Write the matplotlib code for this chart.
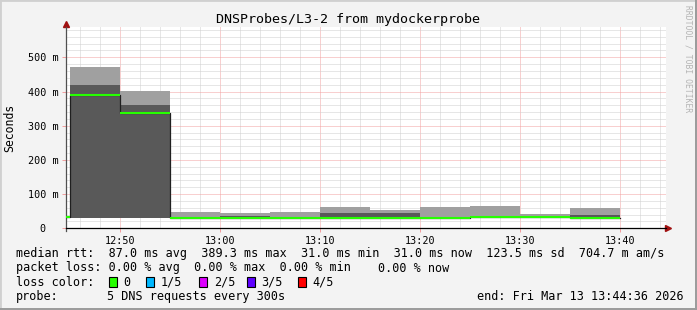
#SmokePing style latency graph (DNSProbes/L3-2)

import numpy as np
import matplotlib.pyplot as plt
from matplotlib.patches import Rectangle

#Data: one row per 5 minute step, values in ms
step_start = ['12:40', '12:45', '12:50', '12:55', '13:00', '13:05',
              '13:10', '13:15', '13:20', '13:25', '13:30', '13:35']
ping_min = [np.nan, 30, 30, 29, 29, 29, 29, 29, 29, 29, 29, 29]
ping_low = [np.nan, 30, 30, 30, 30, 30, 30, 30, 30, 30, 30, 30]
median = [34, 389.3, 336, 31, 31, 31, 31, 31, 31, 34, 34, 31]
ping_high = [np.nan, 419, 360, 32, 36, 32, 45, 45, 33, 36, 35, 39]
ping_max = [np.nan, 472, 402, 48, 45, 47, 62, 54, 62, 65, 42, 60]

x_ticks = ['12:50', '13:00', '13:10', '13:20', '13:30', '13:40']
y_ticks = [0, 100, 200, 300, 400, 500]
y_tick_labels = ['0  ', '100 m', '200 m', '300 m', '400 m', '500 m']

loss_labels = ['0', '1/5', '2/5', '3/5', '4/5']
loss_colors = ['#26ff00', '#00b8ff', '#dd00ff', '#5e00ff', '#ff0000']

def to_min(t):
    h, m = t.split(':')
    return (int(h) - 12) * 60 + int(m)

starts = np.array([to_min(t) for t in step_start], dtype=float)
ping_min = np.array(ping_min)
ping_low = np.array(ping_low)
median = np.array(median)
ping_high = np.array(ping_high)
ping_max = np.array(ping_max)

W, H = 697, 310
mono = 'DejaVu Sans Mono'
fig = plt.figure(figsize=(W / 100, H / 100), dpi=100, facecolor='#f3f3f3')

def fx(x):
    return x / W

def fy(y):
    return 1 - y / H

ax = fig.add_axes([fx(66), fy(228.3), 600 / W, 201.3 / H])
ax.set_xlim(44.6, 104.6)
ax.set_ylim(0, 588.6)

#smoke: outer pings light, inner pings dark
ax.bar(starts, ping_max - ping_min, bottom=ping_min, width=5, align='edge',
       color='#a0a0a0', linewidth=0, zorder=2)
ax.bar(starts, ping_high - ping_low, bottom=ping_low, width=5, align='edge',
       color='#595959', linewidth=0, zorder=3)

#median: dark step line, loss colour on the flat parts
ax.step(np.append(starts, starts[-1] + 5), np.append(median, median[-1]),
        where='post', color='#202020', lw=0.9, zorder=4)
ax.hlines(median, starts, starts + 5, color=loss_colors[0], lw=1.5, zorder=5)

#grid
ax.set_xticks([to_min(t) for t in x_ticks])
ax.set_xticklabels(x_ticks, fontfamily=mono, fontsize=7.3)
ax.set_xticks(np.arange(46, 105, 2), minor=True)
ax.set_yticks(y_ticks)
ax.set_yticklabels(y_tick_labels, fontfamily=mono, fontsize=7.3)
ax.set_yticks(np.arange(20, 581, 20), minor=True)
ax.grid(which='minor', color='#cfcfcf', linestyle=(0, (1, 1)), lw=0.72)
ax.grid(which='major', color='#f2a0a0', linestyle=(0, (1, 1)), lw=0.72)
ax.set_axisbelow(True)
ax.tick_params(which='major', length=3, width=0.72, color='#f2a0a0', pad=2.5)
ax.tick_params(which='minor', length=0)

for s in ['top', 'right']:
    ax.spines[s].set_visible(False)
ax.spines['bottom'].set_color('black')
ax.spines['left'].set_color('#505050')
ax.spines['bottom'].set_linewidth(0.9)
ax.spines['left'].set_linewidth(0.9)
ax.spines['left'].set_bounds(-9, 588.6)
ax.plot([1.004], [0], marker='>', color='#a01010', ms=4, transform=ax.transAxes, clip_on=False)
ax.plot([0], [1.015], marker='^', color='#a01010', ms=4, transform=ax.transAxes, clip_on=False)

fig.text(fx(10), fy(128), 'Seconds', fontfamily=mono, fontsize=8.3, rotation=90,
         ha='center', va='center')

fig.text(fx(347.5), fy(19.5), 'DNSProbes/L3-2 from mydockerprobe', fontfamily=mono,
         fontsize=9.6, ha='center', va='center')
fig.text(fx(688), fy(5), 'RRDTOOL / TOBI OETIKER', fontfamily=mono, fontsize=5.8,
         color='#b4b4b4', rotation=270, ha='center', va='top')

#legend block
lf = dict(fontfamily=mono, fontsize=8.5, va='center')
fig.text(fx(16), fy(254), 'median rtt:  87.0 ms avg  389.3 ms max  31.0 ms min'
         '  31.0 ms now  123.5 ms sd  704.7 m am/s', **lf)
fig.text(fx(16), fy(268), 'packet loss: 0.00 % avg  0.00 % max  0.00 % min', **lf)
fig.text(fx(378.3), fy(268), '0.00 % now', **lf)
fig.text(fx(16), fy(282), 'loss color:', **lf)
box_x = [108.7, 146, 199.3, 247, 297.7]
for bx, lab, col in zip(box_x, loss_labels, loss_colors):
    fig.add_artist(Rectangle((fx(bx), fy(287)), 8 / W, 10 / H, transform=fig.transFigure,
                             facecolor=col, edgecolor='black', lw=0.8))
    fig.text(fx(bx + 14.5), fy(282), lab, **lf)
fig.text(fx(16), fy(296.5), 'probe:', **lf)
fig.text(fx(107), fy(296.5), '5 DNS requests every 300s', **lf)
fig.text(fx(683.5), fy(296.5), 'end: Fri Mar 13 13:44:36 2026', ha='right',
         fontfamily=mono, fontsize=8.5, va='center')

#3d frame around the canvas
fig.add_artist(Rectangle((0, 0), 1, 1, transform=fig.transFigure, fill=False,
                         edgecolor='#d0d0d0', lw=2))
fig.add_artist(Rectangle((0, 0), 1, 2 / H, transform=fig.transFigure, color='#9c9c9c', lw=0))
fig.add_artist(Rectangle((1 - 2 / W, 0), 2 / W, 1, transform=fig.transFigure, color='#9c9c9c', lw=0))

fig.savefig('out.png', dpi=100, facecolor=fig.get_facecolor())
